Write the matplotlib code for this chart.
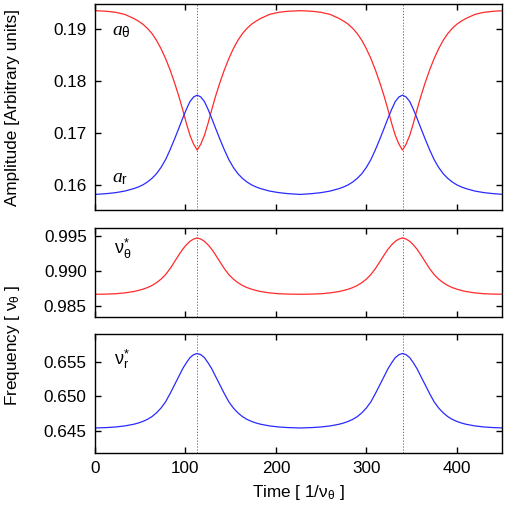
import matplotlib
matplotlib.use("Agg")
import matplotlib.pyplot as plt

plt.rcParams['font.family'] = ['Liberation Sans', 'DejaVu Sans']
plt.rcParams['mathtext.fontset'] = 'custom'
plt.rcParams['mathtext.rm'] = 'Liberation Sans'
plt.rcParams['mathtext.sf'] = 'Liberation Sans'
plt.rcParams['mathtext.it'] = 'Liberation Serif:italic'

# ---------------- data ----------------
time = [0, 13, 23, 33, 43, 48, 53, 58, 63, 68, 73, 78, 83, 88, 93, 97, 101, 105, 109, 113,
        117, 121, 125, 129, 133, 138, 143, 148, 153, 158, 163, 168, 173, 178, 183, 193, 203, 213,
        227,
        240, 250, 260, 270, 275, 280, 285, 290, 295, 300, 305, 310, 315, 320, 324, 328, 332, 336, 340,
        344, 348, 352, 356, 360, 365, 370, 375, 380, 385, 390, 395, 400, 405, 410, 420, 430, 440,
        450]

a_theta = [0.19362, 0.19350, 0.19330, 0.19290, 0.19210, 0.19160, 0.19100, 0.19020, 0.18920, 0.18790,
           0.18630, 0.18440, 0.18220, 0.17970, 0.17695, 0.17450, 0.17190, 0.16960, 0.16790, 0.16674,
           0.16790, 0.16960, 0.17190, 0.17450, 0.17695, 0.17970, 0.18220, 0.18440, 0.18630, 0.18790,
           0.18920, 0.19020, 0.19100, 0.19160, 0.19210, 0.19290, 0.19330, 0.19350,
           0.19362,
           0.19350, 0.19330, 0.19290, 0.19210, 0.19160, 0.19100, 0.19020, 0.18920, 0.18790, 0.18630,
           0.18440, 0.18220, 0.17970, 0.17695, 0.17450, 0.17190, 0.16960, 0.16790, 0.16674,
           0.16790, 0.16960, 0.17190, 0.17450, 0.17695, 0.17970, 0.18220, 0.18440, 0.18630, 0.18790,
           0.18920, 0.19020, 0.19100, 0.19160, 0.19210, 0.19290, 0.19330, 0.19350,
           0.19360]

a_r = [0.15820, 0.15836, 0.15855, 0.15885, 0.15933, 0.15965, 0.16005, 0.16060, 0.16130, 0.16220,
       0.16340, 0.16490, 0.16680, 0.16890, 0.17110, 0.17290, 0.17460, 0.17610, 0.17698, 0.17734,
       0.17698, 0.17610, 0.17460, 0.17290, 0.17110, 0.16890, 0.16680, 0.16490, 0.16340, 0.16220,
       0.16130, 0.16060, 0.16005, 0.15965, 0.15933, 0.15885, 0.15855, 0.15836,
       0.15820,
       0.15836, 0.15855, 0.15885, 0.15933, 0.15965, 0.16005, 0.16060, 0.16130, 0.16220, 0.16340,
       0.16490, 0.16680, 0.16890, 0.17110, 0.17290, 0.17460, 0.17610, 0.17698, 0.17734,
       0.17698, 0.17610, 0.17460, 0.17290, 0.17110, 0.16890, 0.16680, 0.16490, 0.16340, 0.16220,
       0.16130, 0.16060, 0.16005, 0.15965, 0.15933, 0.15885, 0.15855, 0.15836,
       0.15822]

nu_theta = [0.98664, 0.98667, 0.98672, 0.98684, 0.98704, 0.98719, 0.98737, 0.98760, 0.98790, 0.98830,
            0.98880, 0.98945, 0.99030, 0.99130, 0.99232, 0.99308, 0.99370, 0.99420, 0.99452, 0.99468,
            0.99452, 0.99420, 0.99370, 0.99308, 0.99232, 0.99130, 0.99030, 0.98945, 0.98880, 0.98830,
            0.98790, 0.98760, 0.98737, 0.98719, 0.98704, 0.98684, 0.98672, 0.98667,
            0.98664,
            0.98667, 0.98672, 0.98684, 0.98704, 0.98719, 0.98737, 0.98760, 0.98790, 0.98830, 0.98880,
            0.98945, 0.99030, 0.99130, 0.99232, 0.99308, 0.99370, 0.99420, 0.99452, 0.99468,
            0.99452, 0.99420, 0.99370, 0.99308, 0.99232, 0.99130, 0.99030, 0.98945, 0.98880, 0.98830,
            0.98790, 0.98760, 0.98737, 0.98719, 0.98704, 0.98684, 0.98672, 0.98667,
            0.98665]

nu_r = [0.64539, 0.64545, 0.64554, 0.64569, 0.64594, 0.64612, 0.64635, 0.64665, 0.64705, 0.64760,
        0.64830, 0.64920, 0.65040, 0.65170, 0.65300, 0.65405, 0.65490, 0.65565, 0.65608, 0.65626,
        0.65608, 0.65565, 0.65490, 0.65405, 0.65300, 0.65170, 0.65040, 0.64920, 0.64830, 0.64760,
        0.64705, 0.64665, 0.64635, 0.64612, 0.64594, 0.64569, 0.64554, 0.64545,
        0.64539,
        0.64545, 0.64554, 0.64569, 0.64594, 0.64612, 0.64635, 0.64665, 0.64705, 0.64760, 0.64830,
        0.64920, 0.65040, 0.65170, 0.65300, 0.65405, 0.65490, 0.65565, 0.65608, 0.65626,
        0.65608, 0.65565, 0.65490, 0.65405, 0.65300, 0.65170, 0.65040, 0.64920, 0.64830, 0.64760,
        0.64705, 0.64665, 0.64635, 0.64612, 0.64594, 0.64569, 0.64554, 0.64545,
        0.64540]

resonance_times = [113, 340]
x_ticks = [0, 100, 200, 300, 400]
amp_ticks = [0.16, 0.17, 0.18, 0.19]
nut_ticks = [0.985, 0.990, 0.995]
nur_ticks = [0.645, 0.650, 0.655]

# ---------------- figure ----------------
W, H = 507, 505
fig = plt.figure(figsize=(W / 100, H / 100), dpi=100)

def box(top, bottom, left=95, right=502):
    return [left / W, 1 - bottom / H, (right - left) / W, (bottom - top) / H]

ax1 = fig.add_axes(box(3.5, 210))
ax2 = fig.add_axes(box(228, 317))
ax3 = fig.add_axes(box(334, 453))

RED = '#ff2a2a'
BLUE = '#2a2aff'
FS = 12.3
AFS = 14

for ax in (ax1, ax2, ax3):
    ax.set_xlim(0, 450)
    ax.set_xticks(x_ticks)
    ax.tick_params(direction='in', top=True, right=True, length=4.5, width=1.0,
                   labelsize=FS, pad=6)
    for s in ax.spines.values():
        s.set_linewidth(1.0)
    for tr in resonance_times:
        ax.axvline(tr, color='#555555', lw=0.6, ls=(0, (1.5, 2)), zorder=1)

ax1.plot(time, a_theta, color=RED, lw=0.9)
ax1.plot(time, a_r, color=BLUE, lw=0.9)
ax1.set_ylim(0.1552, 0.1950)
ax1.set_yticks(amp_ticks)
ax1.set_yticklabels(['%.2f' % v for v in amp_ticks])
ax1.tick_params(labelbottom=False)
ax1.text(19, 0.1889, r'$a_{\mathrm{\theta}}$', fontsize=AFS, va='baseline')
ax1.text(19, 0.1606, r'$a_{\mathrm{r}}$', fontsize=AFS, va='baseline')

ax2.plot(time, nu_theta, color=RED, lw=0.9)
ax2.set_ylim(0.9834, 0.9961)
ax2.set_yticks(nut_ticks)
ax2.set_yticklabels(['%.3f' % v for v in nut_ticks])
ax2.tick_params(labelbottom=False)
ax2.text(21, 0.99238, r'$\mathrm{\nu}^{*}_{\mathrm{\theta}}$', fontsize=13, va='baseline')

ax3.plot(time, nu_r, color=BLUE, lw=0.9)
ax3.set_ylim(0.64174, 0.6591)
ax3.set_yticks(nur_ticks)
ax3.set_yticklabels(['%.3f' % v for v in nur_ticks])
ax3.text(21, 0.6547, r'$\mathrm{\nu}^{*}_{\mathrm{r}}$', fontsize=13, va='baseline')
ax3.set_xlabel(r'Time [ 1/$\mathrm{\nu}_{\mathrm{\theta}}$ ]', fontsize=FS, labelpad=5)

fig.text(12.5 / W, 1 - 107.5 / H, 'Amplitude [Arbitrary units]',
         rotation=90, fontsize=FS, ha='center', va='center')
fig.text(12.5 / W, 1 - 345 / H, r'Frequency [ $\mathrm{\nu}_{\mathrm{\theta}}$ ]',
         rotation=90, fontsize=FS, ha='center', va='center')

fig.savefig('out.png', dpi=100)
